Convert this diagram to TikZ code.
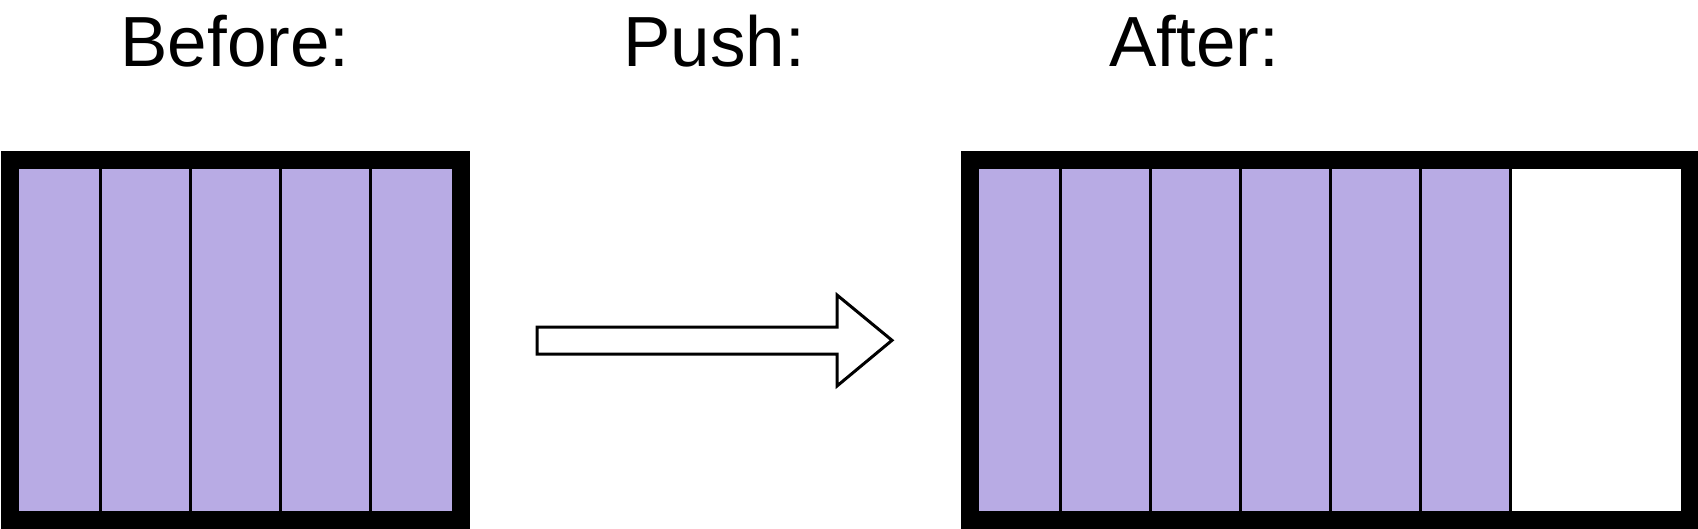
\documentclass[tikz,border=0pt]{standalone}
\usepackage{fontspec}
\setmainfont{Liberation Sans}
\definecolor{cellpurple}{RGB}{184,171,228}
\begin{document}
\begin{tikzpicture}[x=1pt,y=-1pt,
  title/.style={anchor=base,inner sep=0pt,font=\fontsize{71}{82}\selectfont},
  cell/.style={fill=cellpurple,draw=black,line width=3pt},
  frame/.style={draw=black,line width=18pt},
  bigarrow/.style={draw=black,fill=white,line width=3pt,line join=miter}]
\useasboundingbox (0,0) rectangle (1698,528);
\fill[white] (0,0) rectangle (1698,528);
% titles
\node[title] (before) at (235,66) {Before:};
\node[title] (push) at (714,66) {Push:};
\node[title] (after) at (1194,66) {After:};
% before box: 5 purple cells
\foreach \i in {0,...,4} {
  \draw[cell] ({10+90*\i},160) rectangle ({10+90*(\i+1)},519.5);
}
\draw[frame] (10,160) rectangle (461,519.5);
% arrow
\draw[bigarrow] (537,327) -- (837,327) -- (837,295) -- (892,340.3)
  -- (837,386) -- (837,354) -- (537,354) -- cycle;
% after box: 6 purple cells + empty space
\foreach \i in {0,...,5} {
  \draw[cell] ({970+90.15*\i},160) rectangle ({970+90.15*(\i+1)},519.5);
}
\draw[frame] (970,160) rectangle (1689.5,519.5);
\end{tikzpicture}
\end{document}
